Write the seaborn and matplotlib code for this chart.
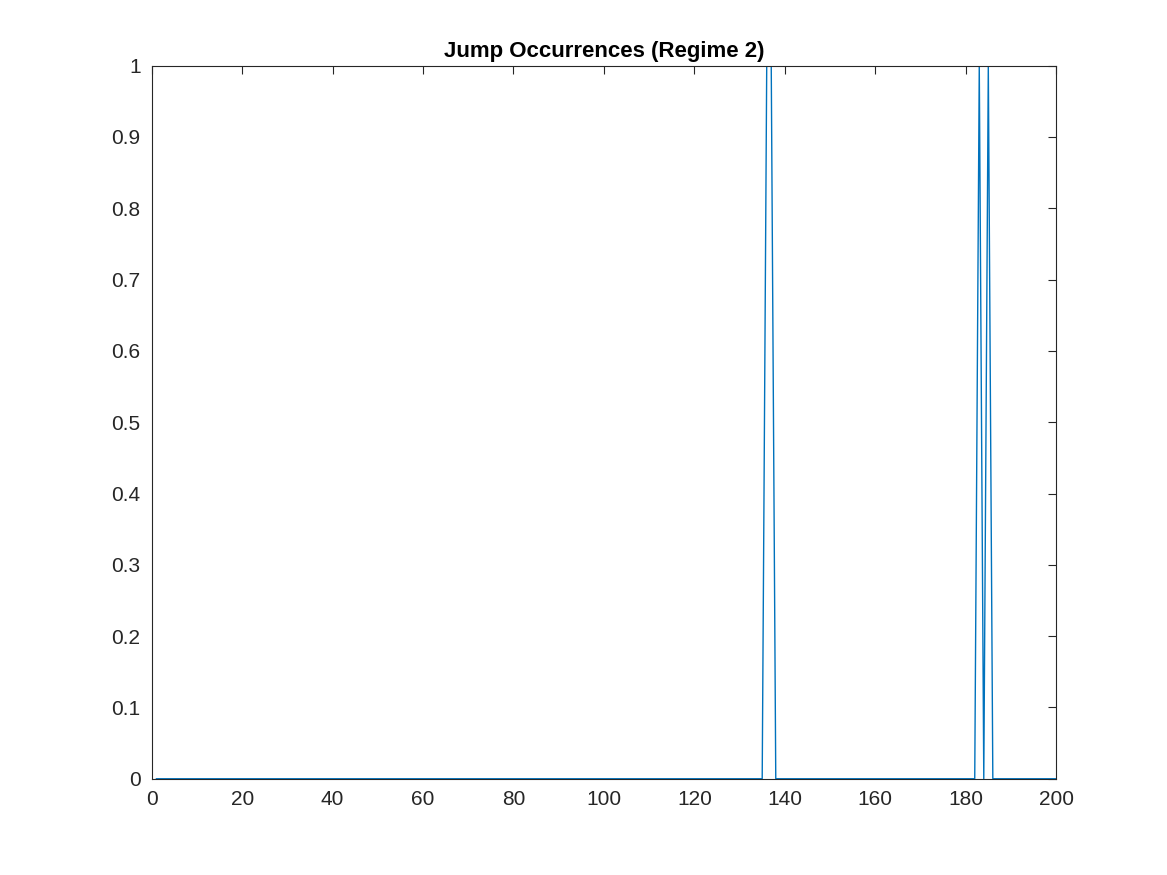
import numpy as np
import pandas as pd
import matplotlib
matplotlib.use("Agg")
import matplotlib.pyplot as plt
import seaborn as sns

t = list(range(1, 201))
jump_times = [136, 137, 183, 185]
jumps = [1 if v in jump_times else 0 for v in t]
df = pd.DataFrame({"t": t, "jump": jumps})

sns.set_style("white")
plt.rcParams['font.family'] = ['Liberation Sans', 'DejaVu Sans']
fig = plt.figure(figsize=(11.67, 8.75), dpi=100)
ax = fig.add_axes([0.130, 0.110, 0.775, 0.815])
sns.lineplot(data=df, x="t", y="jump", ax=ax, color="#0072BD", linewidth=1.0)
ax.set_xlim(0, 200)
ax.set_ylim(0, 1)
ax.set_xticks(range(0, 201, 20))
ax.set_yticks(np.round(np.arange(0, 1.01, 0.1), 1))
ax.set_yticklabels(["0"] + [f"{v:.1f}" for v in np.arange(0.1, 0.95, 0.1)] + ["1"])
ax.tick_params(direction="in", top=True, right=True, length=6, width=0.8, labelsize=15, colors="#262626")
ax.tick_params(axis="x", pad=8)
ax.tick_params(axis="y", pad=8)
ax.set_xlabel("")
ax.set_ylabel("")
for s in ax.spines.values():
    s.set_linewidth(0.8)
    s.set_color("#262626")
ax.set_title("Jump Occurrences (Regime 2)", fontsize=16, fontweight="bold", pad=6, color="black")
fig.savefig("out.png", dpi=100, facecolor="white")
